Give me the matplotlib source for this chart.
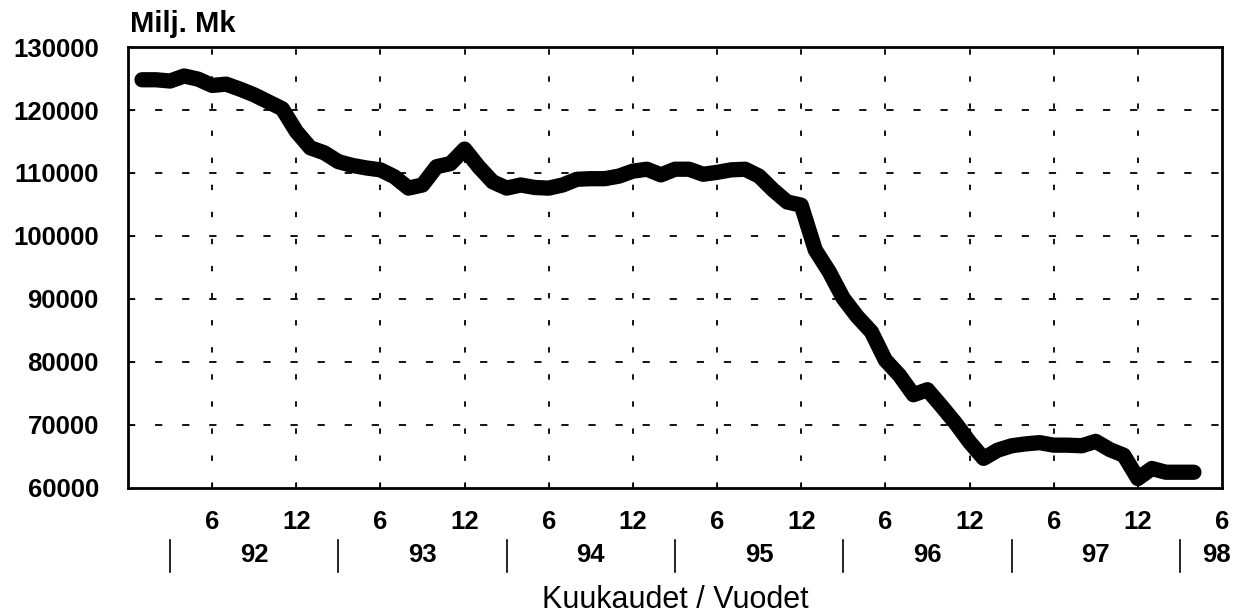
import numpy as np
import matplotlib.pyplot as plt

plt.rcParams['font.family'] = ['Liberation Sans', 'DejaVu Sans']

# Kuukausittaiset arvot, milj. mk (tammikuu 1992 - huhtikuu 1998)
values = [124800, 124800, 124600, 125400, 124900, 123900, 124100, 123300,
          122400, 121300, 120200, 116600, 114000, 113200, 111800, 111200,
          110800, 110500, 109400, 107600, 108100, 111000, 111500, 113800,
          111000, 108600, 107600, 108100, 107700, 107600, 108100, 109000,
          109100, 109100, 109500, 110300, 110600, 109700, 110600, 110600,
          109800, 110100, 110500, 110600, 109500, 107300, 105400, 104900,
          97800, 94300, 90100, 87200, 84800, 80300, 77900, 74800,
          75600, 73000, 70300, 67300, 64700, 66000, 66700, 67000,
          67200, 66800, 66800, 66700, 67400, 66100, 65200, 61500,
          63100, 62500, 62500, 62500]
months = np.arange(1, len(values) + 1)

month_ticks = np.arange(6, 79, 6)
month_labels = ["6", "12"] * 6 + ["6"]
years = ["92", "93", "94", "95", "96", "97", "98"]
year_pos = [9, 21, 33, 45, 57, 69, 77.6]
year_sep = [3, 15, 27, 39, 51, 63, 75]

fig = plt.figure(figsize=(12.45, 6.16), dpi=100)
ax = fig.add_axes([0.1028, 0.2078, 0.8787, 0.7159])

ax.plot(months, values, color="black", lw=11,
        solid_capstyle="round", solid_joinstyle="round")

ax.set_xlim(0, 78)
ax.set_ylim(60000, 130000)
ax.set_yticks(np.arange(60000, 130001, 10000))
ax.set_xticks(month_ticks)
ax.set_xticklabels(month_labels)

for lab in ax.get_yticklabels() + ax.get_xticklabels():
    lab.set_fontweight("bold")
    lab.set_fontsize(18.5)

ax.tick_params(axis="y", direction="in", length=4, pad=21)
ax.tick_params(axis="x", direction="in", length=4, pad=16)

# ruudukko
for v in np.arange(70000, 121000, 10000):
    ax.axhline(v, color="black", lw=1.3, ls=(0, (4, 11)))
for m in month_ticks[:-1]:
    ax.axvline(m, color="black", lw=1.3, ls=(0, (3, 12)))

for s in ax.spines.values():
    s.set_linewidth(2)

tr = ax.get_xaxis_transform()
for x in year_sep:
    ax.plot([x, x], [-0.118, -0.19], color="black", lw=1.2,
            transform=tr, clip_on=False)
for x, y in zip(year_pos, years):
    ax.text(x, -0.152, y, transform=tr, ha="center", va="center",
            fontsize=18.5, fontweight="bold")

ax.text(0.5, -0.254, "Kuukaudet / Vuodet", transform=ax.transAxes,
        ha="center", va="center", fontsize=22)
fig.text(130 / 1245, 1 - 24 / 616, "Milj. Mk", ha="left", va="center",
         fontsize=21, fontweight="bold")

fig.savefig("out.png", dpi=100)
